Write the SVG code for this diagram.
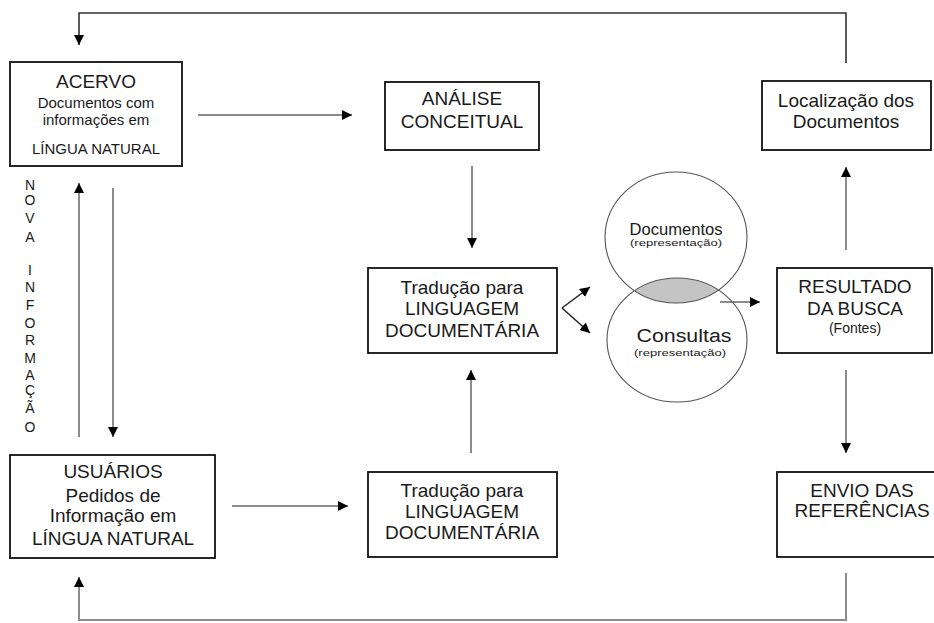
<svg xmlns="http://www.w3.org/2000/svg" width="934" height="623" viewBox="0 0 934 623">
<style>
text{font-family:"Liberation Sans",Arial,sans-serif;fill:#1a1a1a;text-anchor:middle}
.b{fill:#fff;stroke:#111;stroke-width:1.8}
.t{font-size:19px}
.s{font-size:15px}
.v{font-size:14px}
.c{stroke:#8c8c8c;stroke-width:2;fill:none}
.d{stroke:#333;stroke-width:1.6;fill:none}
.k{stroke:#222;stroke-width:1.5;fill:none}
.e{fill:none;stroke:#555;stroke-width:1.1}
</style>
<defs>
<marker id="a" markerUnits="userSpaceOnUse" markerWidth="11" markerHeight="11" refX="10" refY="5" orient="auto">
<path d="M0,0 L10,5 L0,10 z" fill="#000"/>
</marker>
<clipPath id="clipTop"><ellipse cx="676" cy="237.5" rx="71" ry="65.5"/></clipPath>
</defs>
<rect width="934" height="623" fill="#fff"/>
<g id="connectors">
<polyline class="d" points="846,63 846,13 79,13 79,45" marker-end="url(#a)"/>
<line class="c" x1="198" y1="115" x2="352" y2="115" marker-end="url(#a)"/>
<line class="c" x1="79" y1="437" x2="79" y2="183" marker-end="url(#a)"/>
<line class="c" x1="113" y1="188" x2="113" y2="437" marker-end="url(#a)"/>
<line class="c" x1="232" y1="506" x2="348" y2="506" marker-end="url(#a)"/>
<line class="c" x1="471" y1="453" x2="471" y2="370" marker-end="url(#a)"/>
<line class="c" x1="472" y1="166" x2="472" y2="248" marker-end="url(#a)"/>
<line class="k" x1="562" y1="308" x2="590" y2="287" marker-end="url(#a)"/>
<line class="k" x1="562" y1="308" x2="590" y2="333" marker-end="url(#a)"/>
<line class="c" x1="720" y1="302" x2="760" y2="302" marker-end="url(#a)"/>
<line class="c" x1="846" y1="250" x2="846" y2="167" marker-end="url(#a)"/>
<line class="c" x1="846" y1="370" x2="846" y2="453" marker-end="url(#a)"/>
<polyline class="c" points="846,573 846,620 79,620 79,577" marker-end="url(#a)"/>
</g>
<g id="acervo">
<rect class="b" x="10" y="62" width="172" height="104"/>
<text class="t" x="96" y="88">ACERVO</text>
<text class="s" x="96" y="108">Documentos com</text>
<text class="s" x="96" y="125">informações em</text>
<text class="s" x="96" y="154">LÍNGUA NATURAL</text>
</g>
<g id="nova-informacao" class="v">
<text x="30" y="190">N</text>
<text x="30" y="205">O</text>
<text x="30" y="223">V</text>
<text x="30" y="242">A</text>
<text x="30" y="275">I</text>
<text x="30" y="292">N</text>
<text x="30" y="310">F</text>
<text x="30" y="328">O</text>
<text x="30" y="345">R</text>
<text x="30" y="363">M</text>
<text x="30" y="380">A</text>
<text x="30" y="395">Ç</text>
<text x="30" y="413">Ã</text>
<text x="30" y="432">O</text>
</g>
<g id="analise">
<rect class="b" x="385" y="82" width="154" height="68"/>
<text class="t" x="462" y="105">ANÁLISE</text>
<text class="t" x="462" y="128">CONCEITUAL</text>
</g>
<g id="traducao-1">
<rect class="b" x="368" y="268" width="189" height="85"/>
<text class="t" x="462" y="294">Tradução para</text>
<text class="t" x="462" y="315">LINGUAGEM</text>
<text class="t" x="462" y="337">DOCUMENTÁRIA</text>
</g>
<g id="conjuntos">
<ellipse cx="677" cy="340" rx="70" ry="62" fill="#c4c4c4" clip-path="url(#clipTop)"/>
<ellipse class="e" cx="676" cy="237.5" rx="71" ry="65.5"/>
<ellipse class="e" cx="677" cy="340" rx="70" ry="62"/>
<text x="676" y="235" style="font-size:16px" textLength="93" lengthAdjust="spacingAndGlyphs">Documentos</text>
<text x="676" y="246" style="font-size:9px" textLength="92" lengthAdjust="spacingAndGlyphs">(representação)</text>
<text x="684" y="342" style="font-size:18px" textLength="95" lengthAdjust="spacingAndGlyphs">Consultas</text>
<text x="680" y="356" style="font-size:9px" textLength="92" lengthAdjust="spacingAndGlyphs">(representação)</text>
</g>
<g id="localizacao">
<rect class="b" x="762" y="81" width="169" height="69"/>
<text class="t" x="846" y="107">Localização dos</text>
<text class="t" x="846" y="128">Documentos</text>
</g>
<g id="resultado">
<rect class="b" x="777" y="268" width="155" height="85"/>
<text class="t" x="855" y="293">RESULTADO</text>
<text class="t" x="855" y="315">DA BUSCA</text>
<text x="855" y="333" style="font-size:14px">(Fontes)</text>
</g>
<g id="usuarios">
<rect class="b" x="10" y="455" width="205" height="103"/>
<text class="t" x="113" y="478">USUÁRIOS</text>
<text class="t" x="113" y="502">Pedidos de</text>
<text class="t" x="113" y="522">Informação em</text>
<text class="t" x="113" y="545">LÍNGUA NATURAL</text>
</g>
<g id="traducao-2">
<rect class="b" x="368" y="472" width="189" height="85"/>
<text class="t" x="462" y="497">Tradução para</text>
<text class="t" x="462" y="518">LINGUAGEM</text>
<text class="t" x="462" y="539">DOCUMENTÁRIA</text>
</g>
<g id="envio">
<rect class="b" x="777" y="472" width="171" height="85"/>
<text class="t" x="862" y="497">ENVIO DAS</text>
<text class="t" x="862" y="517">REFERÊNCIAS</text>
</g>
</svg>
